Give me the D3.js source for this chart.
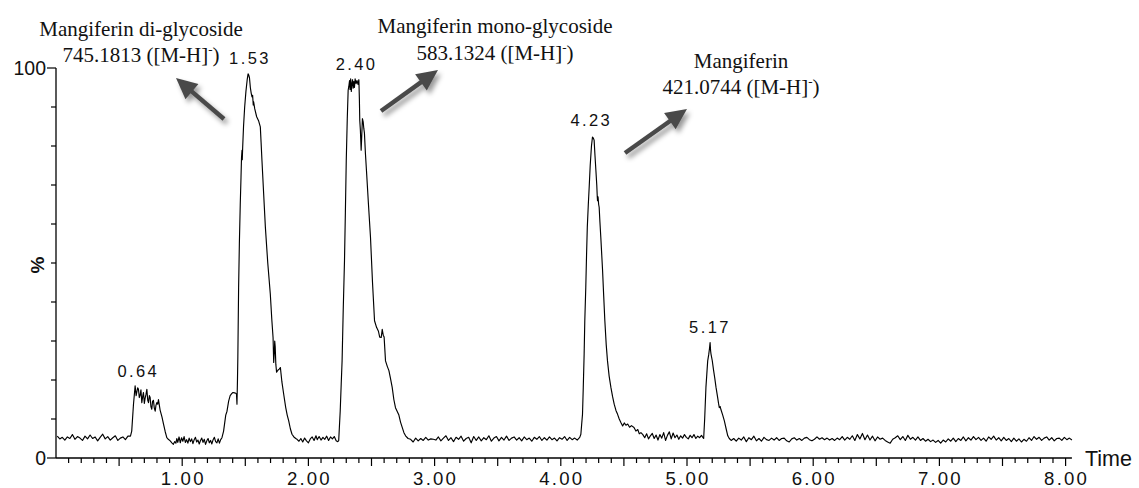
<!DOCTYPE html>
<html>
<head>
<meta charset="utf-8">
<script src="https://cdn.jsdelivr.net/npm/d3@7"></script>
<style>
  html, body { margin: 0; padding: 0; background: #fff; }
  svg { display: block; }
</style>
</head>
<body>
<svg id="chart" width="1139" height="488"></svg>
<script>
// ---------- DATA ----------
// retention time (min), relative intensity (%)
const trace = [
  [0.01,5.6],[0.03,4.9],[0.05,5.3],[0.07,4.6],[0.09,5.4],[0.11,5.0],[0.13,6.0],[0.15,4.8],[0.17,5.5],[0.19,5.1],
  [0.21,4.5],[0.23,5.6],[0.25,4.9],[0.27,5.9],[0.29,5.0],[0.31,5.4],[0.33,4.4],[0.35,5.3],[0.37,6.1],[0.39,4.9],
  [0.41,5.5],[0.43,4.6],[0.45,5.2],[0.47,5.7],[0.49,4.5],[0.51,5.1],[0.53,5.4],[0.55,4.7],[0.57,5.6],[0.59,5.6],
  [0.60,6.9],[0.614,13.8],[0.627,18.5],[0.635,16.0],[0.64,16.8],[0.647,18.0],[0.653,17.7],[0.66,15.5],[0.667,16.2],
  [0.673,17.5],[0.68,14.2],[0.687,15.8],[0.693,16.8],[0.70,14.0],[0.706,15.3],[0.713,16.3],[0.72,17.6],[0.727,14.8],
  [0.733,14.2],[0.74,16.0],[0.746,15.5],[0.752,13.2],[0.759,12.5],[0.765,14.5],[0.772,14.8],[0.779,12.8],[0.786,12.0],
  [0.792,13.5],[0.799,14.2],[0.806,13.8],[0.812,15.0],[0.819,13.5],[0.825,12.3],[0.84,10.5],[0.852,8.7],[0.865,6.8],
  [0.878,5.2],[0.89,4.8],[0.905,4.4],[0.918,3.9],[0.93,3.5],[0.94,4.2],[0.95,3.8],
  [0.957,5.0],[0.965,4.0],[0.975,5.4],[0.985,3.9],[0.995,5.2],[1.005,4.3],[1.015,5.5],[1.025,4.0],[1.035,4.7],
  [1.045,3.8],[1.055,5.1],[1.065,4.2],[1.075,4.9],[1.085,3.7],[1.095,4.7],[1.105,5.3],[1.115,4.1],[1.125,4.6],
  [1.135,3.6],[1.145,4.5],[1.155,5.1],[1.165,4.0],[1.175,4.8],[1.185,3.5],[1.195,4.4],[1.205,5.0],[1.215,3.9],
  [1.225,4.5],[1.235,3.6],[1.245,4.7],[1.255,5.3],[1.265,4.2],[1.275,3.9],[1.285,4.9],[1.295,3.8],[1.305,4.7],[1.315,5.2],
  [1.328,6.9],[1.345,11.0],[1.355,12.0],[1.368,14.6],[1.38,16.0],[1.392,16.5],[1.402,16.8],[1.415,16.7],[1.425,16.6],
  [1.43,16.4],[1.434,13.8],[1.438,20.0],[1.441,26.0],[1.447,43.8],[1.453,55.0],[1.46,65.0],[1.466,72.0],[1.47,77.0],
  [1.474,78.9],[1.476,76.5],[1.479,79.5],[1.486,85.0],[1.495,90.0],[1.505,94.0],[1.515,97.0],[1.522,98.5],[1.527,98.2],
  [1.533,97.5],[1.54,95.0],[1.547,93.5],[1.553,92.6],[1.558,93.0],[1.563,90.5],[1.566,91.3],[1.575,89.5],[1.59,87.5],
  [1.605,86.5],[1.619,84.9],[1.625,81.0],[1.632,76.3],[1.645,68.0],[1.659,59.2],[1.678,50.0],[1.698,42.1],[1.71,35.5],
  [1.72,30.9],[1.725,24.5],[1.73,27.0],[1.733,30.0],[1.737,28.5],[1.742,24.0],[1.748,22.0],[1.758,22.5],[1.768,22.8],
  [1.778,23.2],[1.79,19.5],[1.804,16.4],[1.82,13.0],[1.832,11.0],[1.844,9.5],[1.857,7.5],[1.87,6.1],[1.885,5.4],
  [1.90,5.0],[1.91,4.8],
  [1.925,4.3],[1.94,5.0],[1.955,4.1],[1.97,5.1],[1.985,4.4],[2.00,3.9],[2.015,4.9],[2.03,5.4],[2.045,4.5],[2.06,5.7],
  [2.07,4.7],[2.085,5.5],[2.10,4.6],[2.115,5.3],[2.13,4.8],[2.145,5.6],[2.16,4.5],[2.175,5.4],[2.19,4.9],[2.205,5.5],
  [2.22,4.4],[2.232,4.2],
  [2.24,4.4],[2.252,12.0],[2.26,19.0],[2.267,24.9],[2.276,38.0],[2.286,50.6],[2.293,63.0],[2.30,76.3],[2.308,87.0],
  [2.315,94.3],[2.32,95.2],[2.326,96.8],[2.33,94.5],[2.335,97.2],[2.34,94.0],[2.345,96.0],[2.35,97.0],[2.355,94.8],
  [2.36,96.5],[2.365,95.0],[2.37,97.2],[2.378,96.0],[2.385,96.8],[2.393,95.8],[2.40,97.0],[2.404,92.0],[2.407,86.6],
  [2.412,84.0],[2.418,78.9],[2.422,82.0],[2.428,87.0],[2.434,86.2],[2.439,84.5],[2.444,83.3],[2.452,78.0],[2.46,73.8],
  [2.476,65.0],[2.492,56.6],[2.508,45.0],[2.524,35.2],[2.54,33.5],[2.555,32.5],[2.565,31.0],[2.577,30.9],[2.585,33.0],
  [2.593,31.5],[2.60,31.0],[2.611,24.9],[2.625,23.5],[2.638,22.4],[2.65,20.5],[2.664,18.1],[2.677,15.0],[2.69,12.9],
  [2.703,12.0],[2.717,11.0],[2.73,9.2],[2.744,7.8],[2.757,6.5],[2.77,5.7],[2.79,5.0],[2.81,4.8],
  [2.83,4.1],[2.85,5.1],[2.87,4.4],[2.89,5.0],[2.91,4.5],[2.93,5.3],[2.95,4.6],[2.97,4.9],[2.99,4.8],[3.01,4.6],
  [3.03,5.4],[3.05,4.4],[3.07,5.1],[3.09,5.7],[3.11,4.5],[3.13,5.2],[3.15,4.2],[3.17,5.3],[3.19,4.8],[3.21,5.6],
  [3.23,4.3],[3.25,5.0],[3.27,5.3],[3.29,3.9],[3.31,5.5],[3.33,4.5],[3.35,5.4],[3.37,4.4],[3.39,5.2],[3.41,4.7],
  [3.43,5.7],[3.45,4.3],[3.47,5.1],[3.49,5.5],[3.51,4.4],[3.53,5.3],[3.55,4.6],[3.57,5.6],[3.59,4.5],[3.61,5.1],
  [3.63,5.4],[3.65,4.6],[3.67,5.2],[3.69,4.4],[3.71,5.4],[3.73,4.7],[3.75,5.1],[3.77,4.3],[3.79,5.3],[3.81,4.8],
  [3.83,5.5],[3.85,4.5],[3.87,5.2],[3.89,4.6],[3.91,5.4],[3.93,4.7],[3.95,5.1],[3.97,4.4],[3.99,5.2],[4.01,4.8],
  [4.03,5.5],[4.05,4.5],[4.07,5.3],[4.09,4.7],[4.11,5.1],[4.13,4.6],[4.15,5.3],
  [4.159,6.1],[4.165,8.5],[4.172,11.2],[4.178,18.0],[4.185,26.7],[4.19,35.0],[4.198,43.8],[4.204,52.0],[4.21,59.2],
  [4.218,65.0],[4.225,69.5],[4.233,75.0],[4.243,80.0],[4.251,82.3],[4.258,82.0],[4.264,81.5],[4.271,77.5],[4.278,73.8],
  [4.285,70.0],[4.289,67.0],[4.291,66.0],[4.295,67.0],[4.30,65.0],[4.304,64.3],[4.31,60.5],[4.317,56.6],[4.331,48.1],
  [4.34,41.5],[4.349,35.2],[4.36,29.0],[4.37,24.9],[4.383,21.0],[4.397,18.1],[4.41,15.8],[4.423,13.8],[4.437,12.2],
  [4.45,11.2],[4.463,10.0],[4.476,9.1],[4.49,8.2],[4.503,9.0],[4.516,8.4],[4.53,8.7],[4.545,7.9],[4.56,8.3],[4.58,7.8],
  [4.595,6.9],[4.61,7.3],[4.622,6.2],[4.635,6.5],
  [4.65,6.0],[4.665,5.2],[4.68,6.2],[4.695,4.9],[4.71,5.7],[4.725,6.3],[4.74,5.0],[4.755,5.9],[4.77,4.6],[4.785,6.0],
  [4.80,5.1],[4.815,6.5],[4.83,4.5],[4.845,5.8],[4.86,6.7],[4.875,4.9],[4.89,6.4],[4.905,5.2],[4.92,5.9],[4.935,4.8],
  [4.95,5.7],[4.965,5.1],[4.98,6.0],[4.995,5.3],[5.01,4.9],[5.025,5.8],[5.04,5.2],[5.055,6.0],[5.07,5.0],[5.085,5.6],
  [5.10,5.2],[5.115,5.8],[5.127,5.2],
  [5.132,5.0],[5.14,10.0],[5.15,18.1],[5.157,21.5],[5.164,24.9],[5.172,26.5],[5.178,28.0],[5.183,29.6],[5.187,27.5],
  [5.19,26.7],[5.20,25.0],[5.211,22.4],[5.22,20.5],[5.23,18.1],[5.243,15.5],[5.25,14.0],[5.256,12.9],[5.263,13.2],
  [5.27,12.3],[5.283,11.0],[5.296,9.5],[5.31,7.5],[5.323,5.7],[5.335,5.0],
  [5.35,4.5],[5.37,5.0],[5.39,4.3],[5.41,5.1],[5.43,4.6],[5.45,5.4],[5.47,4.2],[5.49,5.2],[5.51,4.7],[5.53,5.6],
  [5.55,4.4],[5.57,5.0],[5.59,4.3],[5.61,5.3],[5.63,4.7],[5.65,4.5],[5.67,5.1],[5.69,4.6],[5.71,5.2],[5.73,4.5],
  [5.75,5.0],[5.77,5.1],[5.79,4.4],[5.81,4.1],[5.83,4.9],[5.85,5.2],[5.87,4.6],[5.89,5.0],[5.91,4.5],[5.93,5.1],
  [5.95,5.3],[5.97,4.7],[5.99,4.4],[6.01,4.8],[6.03,5.4],[6.05,4.8],[6.07,5.2],[6.09,4.7],[6.11,5.1],[6.13,4.6],
  [6.15,5.0],[6.17,4.5],[6.19,5.1],[6.21,4.7],[6.23,5.5],[6.25,4.6],[6.27,5.3],[6.29,4.8],[6.31,5.7],[6.33,4.5],
  [6.35,6.0],[6.37,4.9],[6.39,6.3],[6.41,4.7],[6.43,5.9],[6.45,4.6],[6.47,5.6],[6.49,4.4],[6.51,5.4],[6.53,4.8],
  [6.55,5.1],[6.57,4.5],[6.59,4.1],[6.61,3.8],[6.63,4.8],[6.65,5.2],[6.67,5.7],[6.69,4.7],[6.71,5.5],[6.73,4.5],
  [6.75,5.8],[6.77,4.8],[6.79,5.3],[6.81,4.6],[6.83,5.4],[6.85,4.5],[6.87,5.0],[6.89,4.3],[6.91,4.8],[6.93,4.2],
  [6.95,4.6],[6.97,4.0],[6.99,4.5],[7.01,3.8],[7.03,4.6],[7.05,4.1],[7.07,4.9],[7.09,4.3],[7.11,5.1],[7.13,4.2],
  [7.15,5.0],[7.17,4.5],[7.19,5.4],[7.21,4.4],[7.23,5.2],[7.25,4.6],[7.27,5.5],[7.29,4.7],[7.31,5.3],[7.33,4.5],
  [7.35,5.1],[7.37,4.3],[7.39,5.4],[7.41,4.8],[7.43,5.6],[7.45,4.6],[7.47,5.2],[7.49,4.4],[7.51,5.3],[7.53,4.5],
  [7.55,5.0],[7.57,4.2],[7.59,5.1],[7.61,4.3],[7.63,4.9],[7.65,4.1],[7.67,4.8],[7.69,4.3],[7.71,5.2],[7.73,4.5],
  [7.75,5.5],[7.77,4.8],[7.79,5.3],[7.81,4.5],[7.83,5.1],[7.85,5.4],[7.87,4.6],[7.89,5.2],[7.91,4.4],[7.93,5.0],
  [7.95,5.1],[7.97,4.5],[7.99,5.3],[8.01,4.7],[8.03,5.1],[8.05,4.6]
];

// labelled peaks: retention time label text, apex time, apex intensity
const peakLabels = ["0.64", "1.53", "2.40", "4.23", "5.17"];
const peakTimes  = [0.64, 1.525, 2.37, 4.23, 5.17];
const peakTops   = [19.2, 99.5, 98.0, 83.5, 30.5];

const xTickLabels = ["1.00","2.00","3.00","4.00","5.00","6.00","7.00","8.00"];
const xTickValues = [1,2,3,4,5,6,7,8];
const yTickLabels = ["0", "100"];
const yTickValues = [0, 100];

const compoundNames = ["Mangiferin di-glycoside", "Mangiferin mono-glycoside", "Mangiferin"];
const compoundMasses = ["745.1813", "583.1324", "421.0744"];

// ---------- LAYOUT ----------
const svg = d3.select("#chart");
const W = 1139, H = 488;
svg.append("rect").attr("width", W).attr("height", H).attr("fill", "#fff");

const x = d3.scaleLinear().domain([0, 8.05]).range([56, 56 + 8.05 * 126.2]);
const y = d3.scaleLinear().domain([0, 100]).range([458, 68]);

const sans = "'Liberation Sans', Arial, sans-serif";
const serif = "'Liberation Serif', 'Times New Roman', serif";

// defs: arrow shadow
const defs = svg.append("defs");
const f = defs.append("filter").attr("id", "shadow")
  .attr("x", "-50%").attr("y", "-50%").attr("width", "200%").attr("height", "200%");
f.append("feDropShadow").attr("dx", 3).attr("dy", 4).attr("stdDeviation", 2.6)
  .attr("flood-color", "#000").attr("flood-opacity", 0.4);

// ---------- AXES ----------
const xAxisG = svg.append("g");
xAxisG.append("line").attr("x1", x(0)).attr("x2", x(8.05)).attr("y1", y(0)).attr("y2", y(0))
  .attr("stroke", "#000").attr("stroke-width", 1.3);
const minorX = d3.range(1, 81).map(i => i / 10);
xAxisG.selectAll("line.tx").data(minorX).join("line")
  .attr("class", "tx")
  .attr("x1", d => x(d)).attr("x2", d => x(d))
  .attr("y1", y(0))
  .attr("y2", d => y(0) + ((Math.round(d * 10) % 5 === 0) ? 8 : 5))
  .attr("stroke", "#000").attr("stroke-width", 1.2);
xAxisG.selectAll("text.xl").data(xTickValues).join("text")
  .attr("class", "xl")
  .attr("x", d => x(d) + 1).attr("y", 485)
  .attr("text-anchor", "middle")
  .attr("font-family", sans).attr("font-size", 18.6)
  .attr("letter-spacing", 2.2)
  .attr("fill", "#111")
  .text((d, i) => xTickLabels[i]);
svg.append("text").attr("x", 1085).attr("y", 466)
  .attr("font-family", sans).attr("font-size", 21.5).attr("fill", "#111").text("Time");

const yAxisG = svg.append("g");
yAxisG.append("line").attr("x1", x(0)).attr("x2", x(0)).attr("y1", y(0)).attr("y2", y(100))
  .attr("stroke", "#000").attr("stroke-width", 1.3);
const minorY = d3.range(0, 101, 10);
yAxisG.selectAll("line.ty").data(minorY).join("line")
  .attr("class", "ty")
  .attr("x1", x(0)).attr("x2", d => x(0) - ((d === 0 || d === 100) ? 9 : 5))
  .attr("y1", d => y(d)).attr("y2", d => y(d))
  .attr("stroke", "#000").attr("stroke-width", 1.2);
yAxisG.selectAll("text.yl").data(yTickValues).join("text")
  .attr("class", "yl")
  .attr("x", 46).attr("y", d => y(d) + 7)
  .attr("text-anchor", "end")
  .attr("font-family", sans).attr("font-size", 19.5).attr("fill", "#111")
  .text((d, i) => yTickLabels[i]);
svg.append("text")
  .attr("transform", `translate(44, ${y(50) + 2}) rotate(-90)`)
  .attr("text-anchor", "middle")
  .attr("font-family", sans).attr("font-size", 19).attr("font-weight", "bold").attr("fill", "#111")
  .text("%");

// ---------- TRACE ----------
const line = d3.line().x(d => x(d[0])).y(d => y(d[1]));
svg.append("path").datum(trace)
  .attr("d", line)
  .attr("fill", "none").attr("stroke", "#000").attr("stroke-width", 1.15)
  .attr("stroke-linejoin", "round");

svg.selectAll("text.pk").data(peakTimes).join("text")
  .attr("class", "pk")
  .attr("x", (d, i) => x(d) + 1.5)
  .attr("y", (d, i) => y(peakTops[i]) - 6)
  .attr("text-anchor", "middle")
  .attr("font-family", sans).attr("font-size", 16.5)
  .attr("letter-spacing", 2.4)
  .attr("fill", "#111")
  .text((d, i) => peakLabels[i]);

// ---------- ANNOTATIONS ----------
const annots = [
  { cx: 141, y1: 36, y2: 62, tail: [224, 119], tip: [176, 78] },
  { cx: 495, y1: 33, y2: 60, tail: [381, 111], tip: [438, 70] },
  { cx: 741, y1: 68, y2: 94, tail: [625, 153], tip: [687, 109] }
];
annots.forEach((a, i) => {
  svg.append("text").attr("x", a.cx).attr("y", a.y1).attr("text-anchor", "middle")
    .attr("font-family", serif).attr("font-size", 21).attr("fill", "#111")
    .text(compoundNames[i]);
  const t2 = svg.append("text").attr("x", a.cx).attr("y", a.y2).attr("text-anchor", "middle")
    .attr("font-family", serif).attr("font-size", 21).attr("fill", "#111");
  t2.append("tspan").text(compoundMasses[i] + " ([M-H]");
  t2.append("tspan").attr("font-size", 13).attr("dy", -8).text("-");
  t2.append("tspan").attr("dy", 8).text(")");

  const dx = a.tip[0] - a.tail[0], dy = a.tip[1] - a.tail[1];
  const len = Math.hypot(dx, dy);
  const ux = dx / len, uy = dy / len, px = -uy, py = ux;
  const L = 21, Wd = 10;
  const bx = a.tip[0] - ux * L, by = a.tip[1] - uy * L;
  const g = svg.append("g").attr("filter", "url(#shadow)");
  g.append("line").attr("x1", a.tail[0]).attr("y1", a.tail[1])
    .attr("x2", bx + ux * 2).attr("y2", by + uy * 2)
    .attr("stroke", "#4a4a4a").attr("stroke-width", 4.5);
  g.append("path")
    .attr("d", `M${a.tip[0]},${a.tip[1]} L${bx + px * Wd},${by + py * Wd} L${bx - px * Wd},${by - py * Wd} Z`)
    .attr("fill", "#4a4a4a");
});
</script>
</body>
</html>
